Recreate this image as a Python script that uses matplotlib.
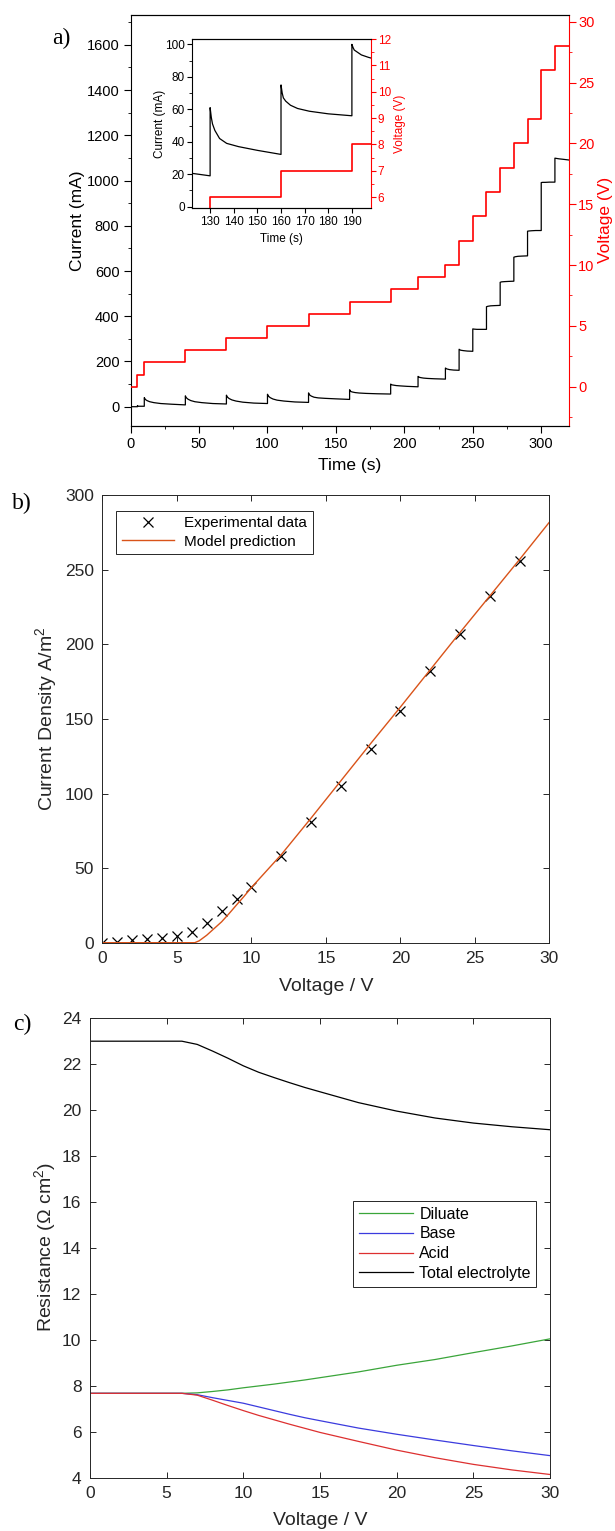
import matplotlib
matplotlib.use('Agg')
import matplotlib.pyplot as plt
from matplotlib.ticker import MultipleLocator

plt.rcParams['font.family'] = ['Liberation Sans', 'DejaVu Sans']
plt.rcParams['mathtext.fontset'] = 'custom'
plt.rcParams['mathtext.rm'] = 'Liberation Sans'
plt.rcParams['mathtext.it'] = 'Liberation Sans:italic'

# ---------------- a) current / voltage vs time
volt_t = [0, 5, 10, 40, 70, 100, 130, 160, 190, 210, 230, 240, 250, 260,
          270, 280, 290, 300, 310, 320]
volt_v = [0, 1, 2, 3, 4, 5, 6, 7, 8, 9, 10, 12, 14, 16, 18, 20, 22, 26, 28, 28]

# read-off current after each voltage step (offset in s from step start)
off5 = [0, 5]
off5b = [0, 0.5, 5]
off30 = [0, 0.5, 1, 2, 4, 7, 12, 20, 30]
off20 = [0, 0.5, 1, 2, 4, 7, 12, 20]
off10 = [0, 1, 3, 6, 10]

cur_start = [0, 5, 10, 40, 70, 100, 130, 160, 190, 210, 230, 240, 250, 260,
             270, 280, 290, 300, 310]
cur_offsets = [off5, off5b, off30, off30, off30, off30, off30, off30, off20,
               off20, off10, off10, off10, off10, off10, off10, off10, off10,
               off10]
cur_values = [
    [0, 0],
    [5, 2, 2],
    [40, 35, 31, 27, 22, 18, 14, 11, 8],
    [48, 42, 38, 33, 27, 22, 18, 14, 12],
    [51, 45, 41, 36, 30, 25, 20, 16, 14],
    [55, 49, 45, 40, 34, 29, 25, 21, 19],
    [61, 55, 51, 47, 42, 39, 37, 34.7, 32.2],
    [75, 70, 67, 65, 62.5, 60.5, 58.8, 57.2, 56],
    [100, 98, 96.5, 95.5, 93.5, 92, 90, 88],
    [134, 132, 130, 128.5, 126.5, 125, 123.5, 122],
    [171, 167, 164, 162, 161],
    [254, 250, 248, 246, 245],
    [344, 343, 342, 342, 342],
    [442, 444, 446, 447, 448],
    [550, 552, 553, 554, 555],
    [661, 663, 665, 666, 667],
    [776, 777, 778, 779, 779],
    [991, 992, 992, 993, 993],
    [1099, 1098, 1096, 1094, 1091],
]

t_cur, i_cur = [], []
for s, offs, vals in zip(cur_start, cur_offsets, cur_values):
    t_cur += [s + o for o in offs]
    i_cur += vals

# ---------------- b) polarisation curve
exp_v = [0, 1, 2, 3, 4, 5, 6, 7, 8, 9, 10, 12, 14, 16, 18, 20, 22, 24, 26, 28]
exp_j = [0, 0.5, 1.5, 2.7, 3.4, 4.7, 7.4, 13, 21.3, 29.3, 37.6, 57.9, 80.7,
         104.9, 130.1, 155.6, 182.2, 207.2, 232.3, 255.8]
mod_v = [0, 6.2, 6.5, 7, 7.5, 8, 8.5, 9, 9.5, 10, 11, 12, 14, 16, 18, 20, 22,
         24, 26, 28, 30]
mod_j = [0, 0, 1.3, 5, 9.5, 14, 19.5, 25.3, 31, 37, 48, 59, 83.5, 108.5,
         133.5, 158, 183, 208, 232.5, 257, 282]

# ---------------- c) resistances
res_v = [0, 6, 7, 8, 9, 10, 11, 12, 13, 14, 15, 17.5, 20, 22.5, 25, 27.5, 30]
r_total = [22.97, 22.97, 22.83, 22.54, 22.23, 21.9, 21.62, 21.39, 21.17,
           20.96, 20.77, 20.3, 19.93, 19.63, 19.41, 19.25, 19.12]
r_dil = [7.66, 7.66, 7.68, 7.74, 7.81, 7.9, 7.98, 8.06, 8.15, 8.24, 8.34,
         8.59, 8.88, 9.13, 9.43, 9.72, 10.03]
r_base = [7.66, 7.66, 7.6, 7.47, 7.35, 7.23, 7.07, 6.91, 6.75, 6.6, 6.47,
          6.15, 5.88, 5.63, 5.39, 5.16, 4.95]
r_acid = [7.66, 7.66, 7.58, 7.36, 7.13, 6.91, 6.7, 6.51, 6.32, 6.14, 5.96,
          5.57, 5.19, 4.86, 4.57, 4.33, 4.13]

W, H = 615, 1531
fig = plt.figure(figsize=(W / 100, H / 100), dpi=100)


def box(l, t, r, b):
    return [l / W, 1 - b / H, (r - l) / W, (b - t) / H]


# ================= panel a
ax = fig.add_axes(box(130.6, 15, 568.6, 425.7))
ax.plot(t_cur, i_cur, color='black', lw=0.9)
ax.set_xlim(0, 320)
ax.set_ylim(-84, 1732)
ax.xaxis.set_major_locator(MultipleLocator(50))
ax.xaxis.set_minor_locator(MultipleLocator(25))
ax.yaxis.set_major_locator(MultipleLocator(200))
ax.yaxis.set_minor_locator(MultipleLocator(100))
ax.tick_params(which='both', direction='out', top=False, right=False,
               labelsize=10.5, pad=3)
ax.tick_params(which='major', length=5)
ax.tick_params(which='minor', length=2.5)
ax.set_xlabel('Time (s)', fontsize=12.5)
ax.set_ylabel('Current (mA)', fontsize=12.5)
ax.yaxis.set_label_coords(-0.105, 0.5)
ax.xaxis.set_label_coords(0.5, -0.078)
ax.spines['right'].set_visible(False)

ax2 = ax.twinx()
ax2.step(volt_t, volt_v, where='post', color='red', lw=1.2)
ax2.set_ylim(-3.2, 30.55)
ax2.yaxis.set_major_locator(MultipleLocator(5))
ax2.yaxis.set_minor_locator(MultipleLocator(2.5))
ax2.tick_params(which='both', direction='out', colors='red', labelsize=10.5,
                pad=2)
ax2.tick_params(which='major', length=5)
ax2.tick_params(which='minor', length=2.5)
ax2.spines['right'].set_color('red')
ax2.spines['left'].set_visible(False)
ax2.set_ylabel('Voltage (V)', fontsize=12.5, color='red')
ax2.yaxis.set_label_coords(1.068, 0.5)

# inset
axi = fig.add_axes(box(192.4, 39, 370.8, 208.3))
axi.plot(t_cur, i_cur, color='black', lw=0.9)
axi.set_xlim(122.5, 198)
axi.set_ylim(-1, 103.3)
axi.xaxis.set_major_locator(MultipleLocator(10))
axi.yaxis.set_major_locator(MultipleLocator(20))
axi.yaxis.set_minor_locator(MultipleLocator(10))
axi.tick_params(which='both', direction='out', top=False, right=False,
                labelsize=8.5, pad=2)
axi.tick_params(which='major', length=3.5)
axi.tick_params(which='minor', length=2)
axi.set_xlabel('Time (s)', fontsize=8.5)
axi.set_ylabel('Current (mA)', fontsize=8.5)
axi.yaxis.set_label_coords(-0.15, 0.5)
axi.spines['right'].set_visible(False)

axi2 = axi.twinx()
axi2.step(volt_t, volt_v, where='post', color='red', lw=1.2)
axi2.set_ylim(5.58, 12)
axi2.yaxis.set_major_locator(MultipleLocator(1))
axi2.yaxis.set_minor_locator(MultipleLocator(0.5))
axi2.tick_params(which='both', direction='out', colors='red', labelsize=8.5,
                 pad=1.5)
axi2.tick_params(which='major', length=3.5)
axi2.tick_params(which='minor', length=2)
axi2.spines['right'].set_color('red')
axi2.spines['left'].set_visible(False)
axi2.set_ylabel('Voltage (V)', fontsize=8.5, color='red', labelpad=2)

# ================= MATLAB style panels
grey = '#262626'


def matlab_axes(a):
    for sp in a.spines.values():
        sp.set_color(grey)
        sp.set_linewidth(0.7)
    a.tick_params(direction='in', top=True, right=True, length=4, width=0.7,
                  colors=grey, labelsize=12.5, pad=6)


axb = fig.add_axes(box(102.4, 495.3, 549.4, 942.7))
axb.plot(exp_v, exp_j, linestyle='none', marker='x', color='black', ms=6.5,
         mew=0.9, label='Experimental data')
axb.plot(mod_v, mod_j, color='#D95319', lw=1.0, label='Model prediction')
axb.set_xlim(0, 30)
axb.set_ylim(0, 300)
axb.xaxis.set_major_locator(MultipleLocator(5))
axb.yaxis.set_major_locator(MultipleLocator(50))
matlab_axes(axb)
axb.set_xlabel('Voltage / V', fontsize=14, color=grey)
axb.set_ylabel('Current Density A/m$^2$', fontsize=14, color=grey)
axb.yaxis.set_label_coords(-0.098, 0.5)
axb.xaxis.set_label_coords(0.5, -0.079)
legb = axb.legend(loc='upper left', bbox_to_anchor=(0.0315, 0.9656),
                  borderaxespad=0, fontsize=11, fancybox=False, framealpha=1,
                  edgecolor=grey, handlelength=3.4, handletextpad=0.7,
                  borderpad=0.35, labelspacing=0.3)
legb.get_frame().set_linewidth(0.7)

axc = fig.add_axes(box(89.8, 1017.5, 550.2, 1477.5))
axc.plot(res_v, r_dil, color='#3aa53a', lw=0.9, label='Diluate')
axc.plot(res_v, r_base, color='#3b3bde', lw=0.9, label='Base')
axc.plot(res_v, r_acid, color='#dd3030', lw=0.9, label='Acid')
axc.plot(res_v, r_total, color='black', lw=0.9, label='Total electrolyte')
axc.set_xlim(0, 30)
axc.set_ylim(4, 24)
axc.xaxis.set_major_locator(MultipleLocator(5))
axc.yaxis.set_major_locator(MultipleLocator(2))
matlab_axes(axc)
axc.set_xlabel('Voltage / V', fontsize=14, color=grey)
axc.set_ylabel('Resistance (\u03a9 cm$^2$)', fontsize=14, color=grey)
axc.yaxis.set_label_coords(-0.068, 0.5)
axc.xaxis.set_label_coords(0.5, -0.076)
legc = axc.legend(loc='upper left', bbox_to_anchor=(0.5717, 0.601),
                  borderaxespad=0, fontsize=11.5, fancybox=False,
                  framealpha=1, edgecolor=grey, handlelength=3.4,
                  handletextpad=0.4, borderpad=0.35, labelspacing=0.3)
legc.get_frame().set_linewidth(0.7)

# panel letters
for lab, x, y in [('a)', 61, 38), ('b)', 22, 503), ('c)', 22, 1024)]:
    fig.text(x / W, 1 - y / H, lab, fontsize=17, ha='center', va='center',
             family='Liberation Serif')

fig.savefig('out.png', dpi=100)
